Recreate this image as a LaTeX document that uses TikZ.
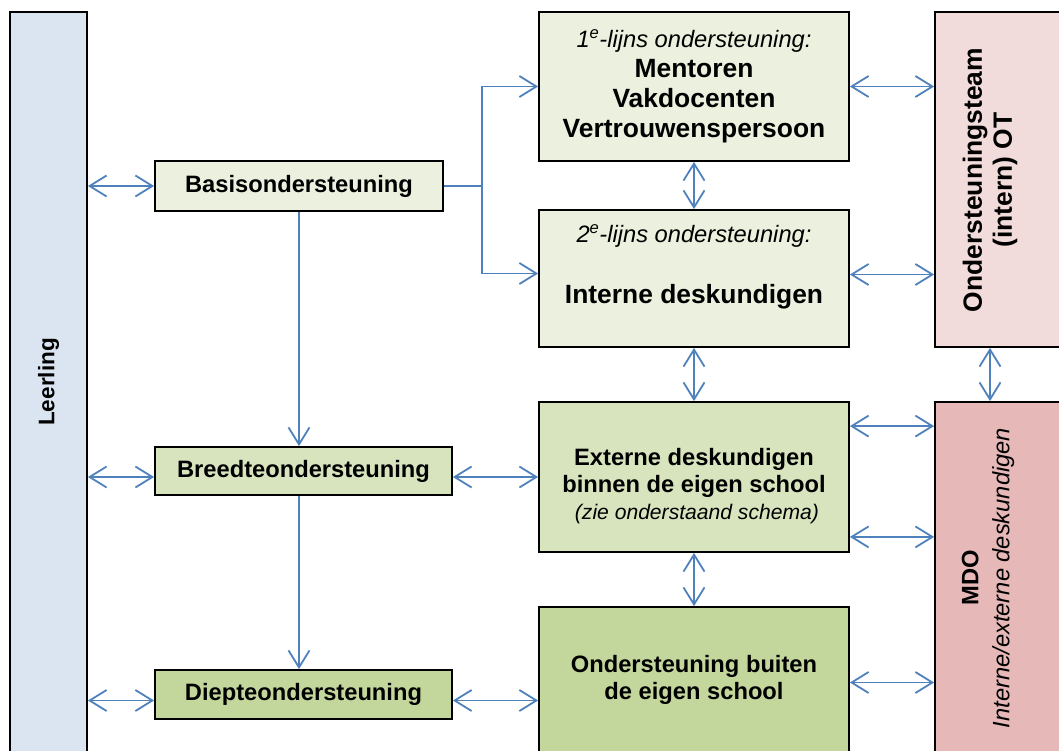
\documentclass[tikz,border=0pt]{standalone}
\usepackage{fontspec}
\setmainfont{Liberation Sans}
\usetikzlibrary{arrows.meta}
\definecolor{leerlingblue}{HTML}{DBE5F1}
\definecolor{lichtgroen}{HTML}{EBF1DE}
\definecolor{middengroen}{HTML}{D7E4BD}
\definecolor{donkergroen}{HTML}{C3D69B}
\definecolor{otroze}{HTML}{F2DCDB}
\definecolor{mdoroze}{HTML}{E6B9B8}
\definecolor{pijlblauw}{HTML}{4F81BD}

\begin{document}
\begin{tikzpicture}[x=1pt,y=-1pt,
    >={Straight Barb[length=17pt,width=21pt,line width=1.8pt]},
    pijl/.style={draw=pijlblauw,line width=1.8pt},
    blok/.style={draw=black,line width=1.8pt,align=center,inner sep=0pt},
    tekst/.style={font=\fontsize{23.7}{27}\selectfont\bfseries,align=center}]
    \useasboundingbox (0,0) rectangle (1059,751);
    \clip (0,0) rectangle (1059,751);
    % linker kolom
    \node[blok,fill=leerlingblue,rotate=90,minimum width=740,minimum height=77,
        font=\fontsize{22.5}{26}\selectfont\bfseries] (leerling) at (48.5,382) {Leerling};
    % niveaus
    \node[blok,tekst,fill=lichtgroen,minimum width=288,minimum height=50] (basis) at (299,186) {Basisondersteuning};
    \node[blok,tekst,fill=middengroen,minimum width=297,minimum height=48] (breedte) at (303.5,471) {Breedteondersteuning};
    \node[blok,tekst,fill=donkergroen,minimum width=297,minimum height=49] (diepte) at (303.5,694.5) {Diepteondersteuning};
    % middelste kolom
    \node[blok,fill=lichtgroen,minimum width=310,minimum height=149,
        font=\fontsize{26.4}{30}\selectfont\bfseries] (een) at (694,86.5)
        {{\fontsize{23.7}{30}\selectfont\mdseries\itshape 1\textsuperscript{e}-lijns ondersteuning:}\\
        Mentoren\\ Vakdocenten\\ Vertrouwenspersoon};
    \node[blok,fill=lichtgroen,minimum width=310,minimum height=137] (twee) at (694,278.5) {};
    \node[align=center,font=\fontsize{26.4}{30}\selectfont\bfseries] (tweetekst) at (694,266.5)
        {{\fontsize{23.7}{30}\selectfont\mdseries\itshape 2\textsuperscript{e}-lijns ondersteuning:}\\[31pt]
        Interne deskundigen};
    \node[blok,fill=middengroen,minimum width=310,minimum height=150] (extern) at (694,477) {};
    \node[tekst] (externtekst) at (694,486)
        {Externe deskundigen\\ binnen de eigen school\\
        {\fontsize{21.1}{26}\selectfont\mdseries\itshape\ (zie onderstaand schema)}};
    \node[blok,tekst,fill=donkergroen,minimum width=310,minimum height=145] (buiten) at (694,679.5)
        {Ondersteuning buiten\\ de eigen school};
    % rechter kolom
    \node[blok,fill=otroze,minimum width=135,minimum height=335] (ot) at (1002.5,179.5) {};
    \node[rotate=90,align=center,font=\fontsize{26.4}{30}\selectfont\bfseries] (ottekst) at (990,180)
        {Ondersteuningsteam\\ (intern) OT};
    \node[blok,fill=mdoroze,minimum width=135,minimum height=350] (mdo) at (1002.5,577) {};
    \node[rotate=90,align=center,font=\fontsize{23.7}{31}\selectfont] (mdotekst) at (988,578)
        {\bfseries MDO\\ \itshape Interne/externe deskundigen};
    % pijlen naar leerling
    \draw[pijl,<->] (basis.west -| leerling.south) -- (basis.west);
    \draw[pijl,<->] (extern.west -| leerling.south) -- (extern.west -| breedte.west);
    \draw[pijl,<->] ([yshift=-6pt]diepte.west -| leerling.south) -- ([yshift=-6pt]diepte.west);
    % vertakking basis
    \coordinate (splitsing) at (482,186);
    \draw[pijl] (basis.east) -- (splitsing);
    \draw[pijl,->] (splitsing) |- (een.west);
    \draw[pijl,->] (splitsing) |- ([yshift=5pt]twee.west);
    % omlaag
    \draw[pijl,->] (basis.south) -- (basis.south |- breedte.north);
    \draw[pijl,->] (breedte.south -| basis.south) -- (diepte.north -| basis.south);
    % naar midden
    \draw[pijl,<->] (extern.west -| breedte.east) -- (extern.west);
    \draw[pijl,<->] ([yshift=-6pt]diepte.east) -- ([yshift=-6pt]diepte.east -| buiten.west);
    \draw[pijl,<->] (een.south) -- (twee.north);
    \draw[pijl,<->] (twee.south) -- (extern.north);
    \draw[pijl,<->] (extern.south) -- (buiten.north);
    % naar rechts
    \draw[pijl,<->] (een.east) -- (een.east -| ot.west);
    \draw[pijl,<->] ([yshift=4pt]twee.east) -- ([yshift=4pt]twee.east -| ot.west);
    \draw[pijl,<->] (ot.south -| ottekst) -- (mdo.north -| ottekst);
    \draw[pijl,<->] ([yshift=-25pt]extern.north east) -- ([yshift=-25pt]extern.north east -| mdo.west);
    \draw[pijl,<->] ([yshift=16pt]extern.south east) -- ([yshift=16pt]extern.south east -| mdo.west);
    \draw[pijl,<->] ([yshift=-3pt]buiten.east) -- ([yshift=-3pt]buiten.east -| mdo.west);
\end{tikzpicture}
\end{document}
